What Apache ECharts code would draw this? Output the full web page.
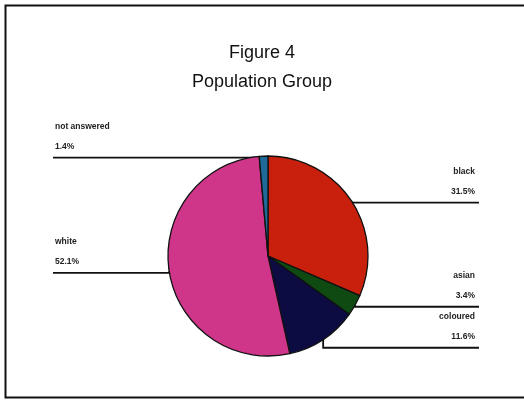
<!DOCTYPE html>
<html>
<head>
<meta charset="utf-8">
<script src="https://cdn.jsdelivr.net/npm/echarts@6/dist/echarts.min.js"></script>
<style>
  html, body { margin: 0; padding: 0; background: #fff; }
  #chart { width: 524px; height: 400px; }
</style>
</head>
<body>
<div id="chart"></div>
<script>
// Population group shares (percent)
const categories = ['black', 'asian', 'coloured', 'white', 'not answered'];
const shares = [31.5, 3.4, 11.6, 52.1, 1.4];
const sliceColors = ['#c8200c', '#0e4a12', '#0c0c42', '#cf3588', '#1f6a98'];

const titleText = 'Figure 4';
const subtitleText = 'Population Group';

const chart = echarts.init(document.getElementById('chart'), null, { renderer: 'canvas' });

const cx = 268, cy = 256, radius = 100;
const leftEdge = 53, rightEdge = 479;
const blockGap = 41;

// running state for stacking the labels on each side of the pie
let lastLineY = {};

const titleStyle = { fontFamily: 'Liberation Sans, Arial', fontSize: 18, fontWeight: 'normal', color: '#111' };
const labelFont = { fontFamily: 'Liberation Sans, Arial', fontSize: 8.5, fontWeight: 'bold', color: '#222', lineHeight: 20 };

const option = {
  animation: false,
  backgroundColor: '#fff',
  graphic: [{
    type: 'rect',
    shape: { x: 5.5, y: 5.5, width: 524, height: 392 },
    style: { fill: 'none', stroke: '#111', lineWidth: 2 },
    silent: true
  }],
  title: [{
    text: titleText,
    left: 'center',
    top: 39,
    textStyle: titleStyle
  }, {
    text: subtitleText,
    left: 'center',
    top: 68,
    textStyle: titleStyle
  }],
  series: [{
    type: 'pie',
    center: [cx, cy],
    radius: radius,
    startAngle: 90,
    clockwise: true,
    avoidLabelOverlap: false,
    data: categories.map((name, i) => ({
      name: name,
      value: shares[i],
      itemStyle: { color: sliceColors[i] }
    })),
    itemStyle: { borderColor: '#111', borderWidth: 1.3 },
    label: {
      show: true,
      position: 'outside',
      formatter: p => '{n|' + p.name + '}\n{v|' + p.value.toFixed(1) + '%}',
      rich: { n: labelFont, v: labelFont }
    },
    labelLine: {
      show: true,
      lineStyle: { color: '#111', width: 1.8 }
    },
    labelLayout: function (params) {
      if (params.dataIndex === 0) lastLineY = {};
      const edge = params.labelLinePoints[0];
      const right = edge[0] >= cx;
      const side = right ? 'r' : 'l';
      let lineY = edge[1] + 1.5;
      if (lastLineY[side] !== undefined && lineY < lastLineY[side] + blockGap && lineY > lastLineY[side]) {
        lineY = lastLineY[side] + blockGap;
      }
      lastLineY[side] = lineY;
      const endX = right ? rightEdge : leftEdge;
      return {
        x: right ? endX - 4 : endX + 2,
        y: lineY - 1,
        align: right ? 'right' : 'left',
        verticalAlign: 'bottom',
        labelLinePoints: [edge, [edge[0], lineY], [endX, lineY]]
      };
    }
  }]
};

chart.setOption(option);
</script>
</body>
</html>
